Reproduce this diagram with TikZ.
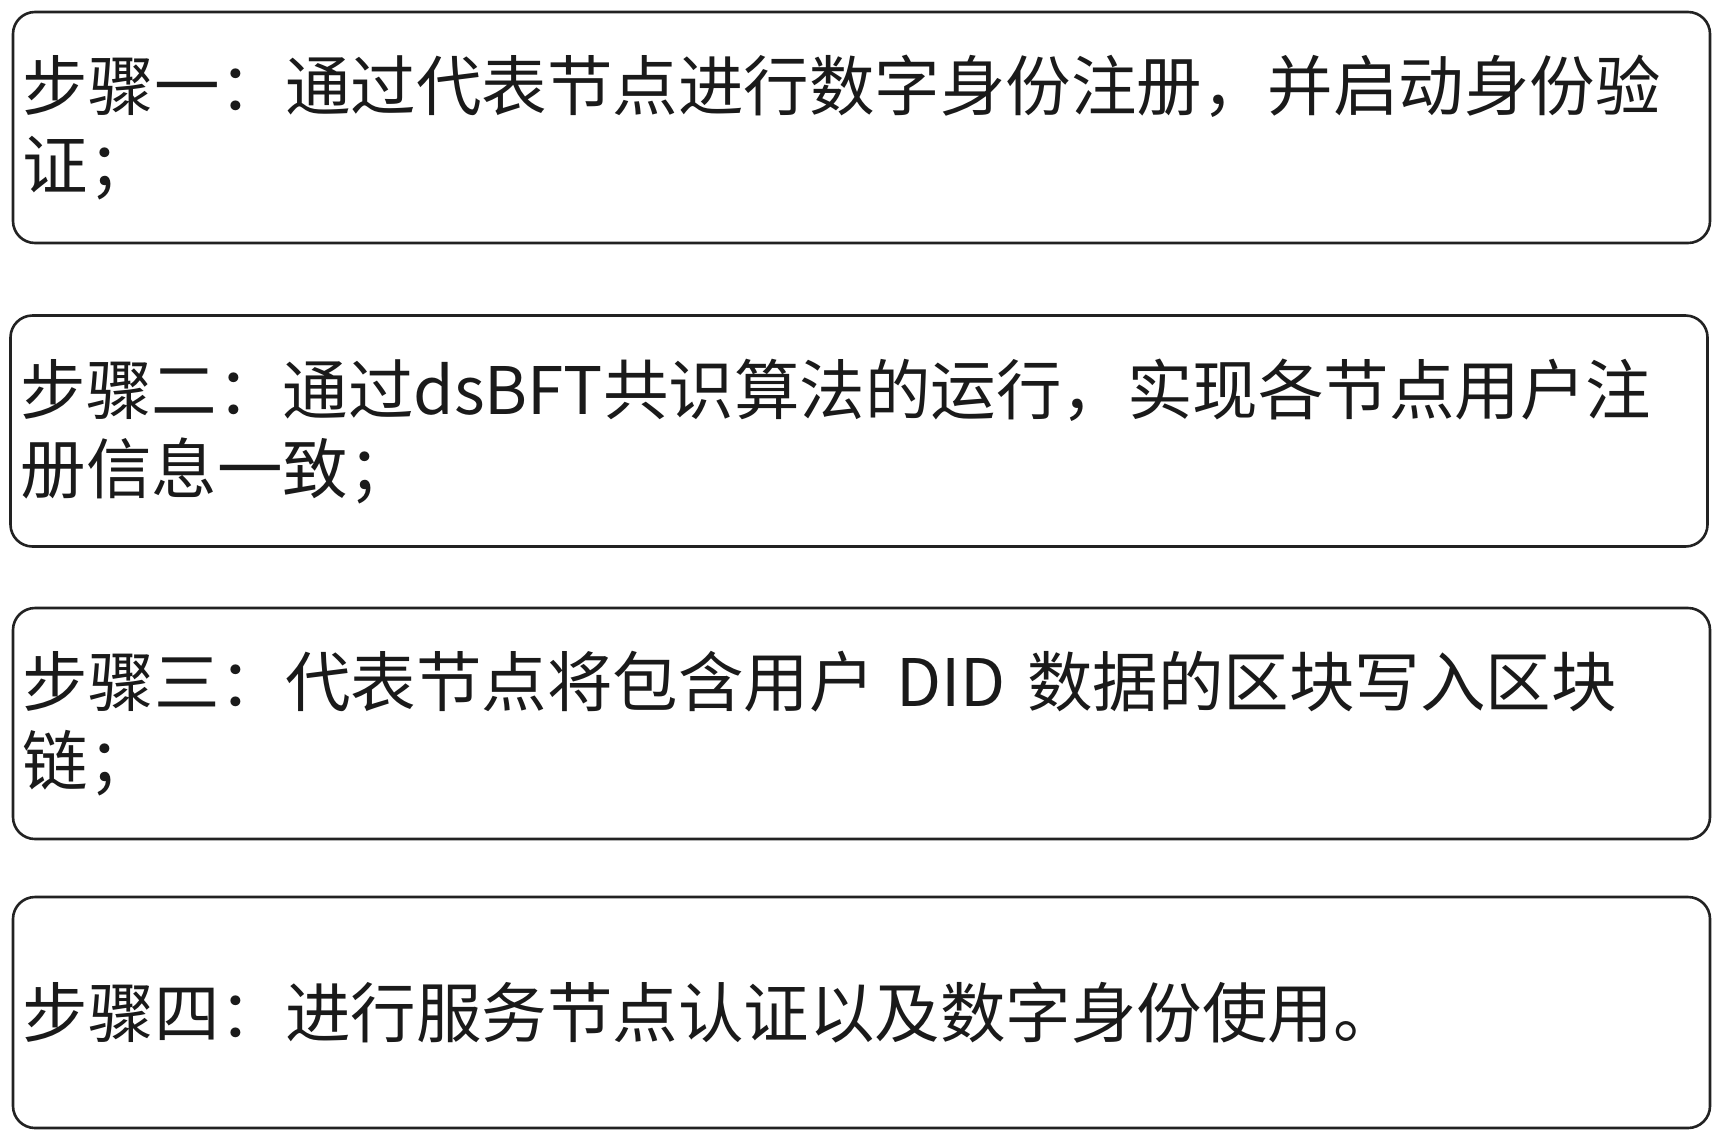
\documentclass[tikz,border=0pt]{standalone}
\usepackage{fontspec}
\newfontfamily\cjk{Noto Sans CJK SC}
\definecolor{edgegray}{HTML}{222222}
\definecolor{inkgray}{HTML}{1A1A1A}
\tikzset{
  stepbox/.style={draw=edgegray, line width=2.6pt, rounded corners=22pt,
    minimum width=1697pt, minimum height=231pt, text width=1677pt,
    inner xsep=10pt, inner ysep=0pt, align=left, text=inkgray,
    font=\cjk\fontsize{65.5}{79}\selectfont}
}
\begin{document}
\begin{tikzpicture}[x=1pt,y=-1pt]
\useasboundingbox[fill=white] (0,0) rectangle (1723,1141);
\node[stepbox] (s1) at (861.5,127.5) {步骤一：通过代表节点进行数字身份注册，并启动身份验\\证；};
\node[stepbox] (s2) at (859,431) {步骤二：通过dsBFT共识算法的运行，实现各节点用户注\\册信息一致；};
\node[stepbox] (s3) at (861.5,723.5) {步骤三：代表节点将包含用户 DID 数据的区块写入区块\\链；};
\node[stepbox] (s4) at (861.5,1012.5) {步骤四：进行服务节点认证以及数字身份使用。};
\end{tikzpicture}
\end{document}
